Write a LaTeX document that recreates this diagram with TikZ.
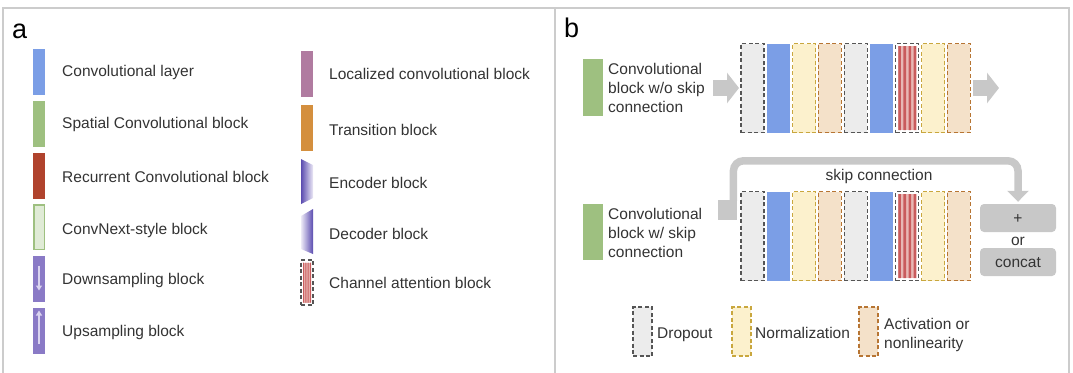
\documentclass[tikz,border=0pt]{standalone}
\usepackage{fontspec}
\setmainfont{Liberation Sans}
\usetikzlibrary{arrows.meta,calc}

\definecolor{framegray}{HTML}{CCCCCC}
\definecolor{txtgray}{HTML}{333333}
\definecolor{convblue}{HTML}{7B9EE6}
\definecolor{spatgreen}{HTML}{9EC080}
\definecolor{recred}{HTML}{B0432D}
\definecolor{cnxfill}{HTML}{E0EBD6}
\definecolor{sampurple}{HTML}{8A7AC6}
\definecolor{samparrow}{HTML}{DAD4F0}
\definecolor{locmauve}{HTML}{B07BA0}
\definecolor{transorange}{HTML}{D48F3E}
\definecolor{encdark}{HTML}{5B4CB0}
\definecolor{enclight}{HTML}{ECE9F6}
\definecolor{dropfill}{HTML}{ECECEC}
\definecolor{dropdraw}{HTML}{555555}
\definecolor{normfill}{HTML}{FCF1CD}
\definecolor{normdraw}{HTML}{C9A73E}
\definecolor{actfill}{HTML}{F4E1C9}
\definecolor{actdraw}{HTML}{B77533}
\definecolor{cared}{HTML}{C95B5C}
\definecolor{capink}{HTML}{E8B8B5}
\definecolor{arrowgray}{HTML}{C8C8C8}

\begin{document}
\begin{tikzpicture}[x=1pt,y=-1pt,
    panelframe/.style={draw=framegray,line width=1.5pt},
    panelname/.style={anchor=base west,inner sep=0pt,font=\fontsize{27}{30}\selectfont},
    plaintext/.style={inner sep=0pt,text=txtgray,
        font=\fontsize{15.5}{19}\selectfont,text height=11pt,text depth=0pt},
    legtext/.style={plaintext,anchor=west},
    % multi-line texts are placed at the baseline of their last line
    multitext/.style={anchor=base west,inner sep=0pt,text=txtgray,align=left,
        font=\fontsize{15.5}{19}\selectfont},
    swatch/.style={minimum width=12pt,minimum height=46pt,inner sep=0pt,outer sep=0pt},
    blk/.style={minimum width=23pt,minimum height=89pt,inner sep=0pt,outer sep=0pt},
    dashbox/.style={line width=1.1pt,dash pattern=on 4pt off 2.5pt},
    dropblk/.style={blk,dashbox,fill=dropfill,draw=dropdraw},
    convblk/.style={blk,fill=convblue},
    normblk/.style={blk,dashbox,fill=normfill,draw=normdraw},
    actblk/.style={blk,dashbox,fill=actfill,draw=actdraw},
    stripes/.style={path picture={
        \fill[capink] ([shift={(#1,-2.5pt)}]path picture bounding box.north west)
            rectangle ([shift={(-#1,2.5pt)}]path picture bounding box.south east);
        \fill[cared] let \p1=([shift={(#1,-2.5pt)}]path picture bounding box.north west),
            \p2=([shift={(-#1,2.5pt)}]path picture bounding box.south east),
            \n1={(\x2-\x1)/7} in
            \foreach \k in {0,2,4,6} {(\x1+\k*\n1,\y1) rectangle (\x1+\k*\n1+\n1,\y2)};
        }},
    chanblk/.style={blk,dashbox,fill=white,draw=dropdraw,stripes=2.5pt},
    sampling/.style={draw=samparrow,line width=1.3pt,-{Triangle[width=6pt,length=5pt]}},
    fatarrow/.style={draw=arrowgray,line width=16pt,-{Triangle[width=30pt,length=12pt]}},
    skiparrow/.style={draw=arrowgray,line width=7.5pt,rounded corners=10pt,
        -{Triangle[width=21pt,length=11pt]}},
    opbox/.style={plaintext,fill=arrowgray,rounded corners=4pt,
        minimum width=76pt,minimum height=28pt},
    ]
    \useasboundingbox (0,0) rectangle (1073,372);
    % Panel frames
    \draw[panelframe] (3,8) rectangle (555,380);
    \draw[panelframe] (555,8) rectangle (1069,380);
    \node[panelname] (namea) at (12,38) {a};
    \node[panelname] (nameb) at (564,37) {b};

    % Legend, first column
    \node[swatch,fill=convblue] (sw1) at (39,72) {};
    \node[swatch,fill=spatgreen] (sw2) at (39,123.5) {};
    \node[swatch,fill=recred] (sw3) at (39,175.5) {};
    \node[swatch,fill=cnxfill,draw=spatgreen,line width=1.5pt,
          minimum width=10.5pt,minimum height=44.5pt] (sw4) at (39,227) {};
    \node[swatch,fill=sampurple] (sw5) at (39,278.5) {};
    \node[swatch,fill=sampurple] (sw6) at (39,330.5) {};
    \draw[sampling] ([yshift=-10pt]sw5.north) -- ([yshift=11pt]sw5.south);
    \draw[sampling] ([yshift=10pt]sw6.south) -- ([yshift=-3pt]sw6.north);
    \node[legtext] (lt1) at (62,71) {Convolutional layer};
    \node[legtext] (lt2) at (62,123) {Spatial Convolutional block};
    \node[legtext] (lt3) at (62,177) {Recurrent Convolutional block};
    \node[legtext] (lt4) at (62,229) {ConvNext-style block};
    \node[legtext] (lt5) at (62,279) {Downsampling block};
    \node[legtext] (lt6) at (62,331) {Upsampling block};

    % Legend, second column
    \node[swatch,fill=locmauve] (sw7) at (307,73.5) {};
    \node[swatch,fill=transorange] (sw8) at (307,128) {};
    % encoder and decoder
    \shade[left color=encdark,right color=enclight]
        (301,159) -- (313,165) -- (313,198) -- (301,204) -- cycle;
    \shade[left color=enclight,right color=encdark]
        (301,216) -- (313,209) -- (313,254) -- (301,249) -- cycle;
    \node[swatch,dashbox,fill=white,draw=dropdraw,stripes=2pt,
          minimum height=45pt] (sw11) at (307,282.5) {};
    \node[legtext] (lt7) at (329,74) {Localized convolutional block};
    \node[legtext] (lt8) at (329,129.5) {Transition block};
    \node[legtext] (lt9) at (329,182.5) {Encoder block};
    \node[legtext] (lt10) at (329,233.5) {Decoder block};
    \node[legtext] (lt11) at (329,282.5) {Channel attention block};

    % Block w/o skip connection
    \node[swatch,fill=spatgreen,minimum width=20pt,minimum height=57pt] (gr1) at (593,87.5) {};
    \node[multitext] (bt1) at (608,112) {Convolutional\\block w/o skip\\connection};
    \node[dropblk] (r1b1) at (752.5,88) {};
    \node[convblk] (r1b2) at (778.3,88) {};
    \node[normblk] (r1b3) at (804.1,88) {};
    \node[actblk]  (r1b4) at (829.9,88) {};
    \node[dropblk] (r1b5) at (855.7,88) {};
    \node[convblk] (r1b6) at (881.5,88) {};
    \node[chanblk] (r1b7) at (907.3,88) {};
    \node[normblk] (r1b8) at (933.1,88) {};
    \node[actblk]  (r1b9) at (958.9,88) {};
    \coordinate (in1) at (713,88);
    \coordinate (out1) at (999,88);
    \draw[fatarrow] (in1) -- ([xshift=-2pt]r1b1.west);
    \draw[fatarrow] ([xshift=3pt]r1b9.east) -- (out1);

    % Block w/ skip connection
    \node[swatch,fill=spatgreen,minimum width=20pt,minimum height=56pt] (gr2) at (593,232) {};
    \node[multitext] (bt2) at (608,257) {Convolutional\\block w/ skip\\connection};
    \node[dropblk] (r2b1) at (752.5,236) {};
    \node[convblk] (r2b2) at (778.3,236) {};
    \node[normblk] (r2b3) at (804.1,236) {};
    \node[actblk]  (r2b4) at (829.9,236) {};
    \node[dropblk] (r2b5) at (855.7,236) {};
    \node[convblk] (r2b6) at (881.5,236) {};
    \node[chanblk] (r2b7) at (907.3,236) {};
    \node[normblk] (r2b8) at (933.1,236) {};
    \node[actblk]  (r2b9) at (958.9,236) {};
    \node[opbox] (plusbox) at (1018,218) {+};
    \node[plaintext] (ortxt) at (1018,240) {or};
    \node[opbox] (catbox) at (1018,262) {concat};
    % skip connection arrow
    \node[fill=arrowgray,minimum width=19pt,minimum height=20pt,inner sep=0pt]
        (skipstub) at (727.5,210) {};
    \draw[skiparrow] ([xshift=-3.75pt,yshift=-1pt]skipstub.north east)
        -- ++(0,-40) -| ([yshift=2pt]plusbox.north);
    \node[plaintext] (skiptxt) at (879,175) {skip connection};

    % Bottom legend
    \node[dropblk,minimum width=19pt,minimum height=49pt] (legdrop) at (642.5,331.5) {};
    \node[normblk,minimum width=19pt,minimum height=49pt] (legnorm) at (741.5,331.5) {};
    \node[actblk,minimum width=19pt,minimum height=49pt] (legact) at (868.5,331.5) {};
    \node[legtext] (dt1) at (657,332.5) {Dropout};
    \node[legtext] (dt2) at (755,332.5) {Normalization};
    \node[multitext] (dt3) at (884,348) {Activation or\\nonlinearity};
\end{tikzpicture}
\end{document}
